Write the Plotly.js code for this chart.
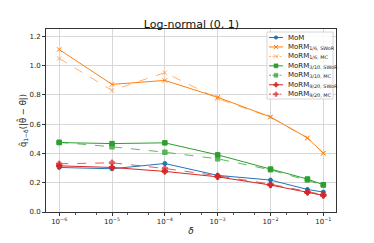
<!DOCTYPE html>
<html>
<head>
<meta charset="utf-8">
<script src="https://cdn.plot.ly/plotly-3.0.1.min.js"></script>
<style>html,body{margin:0;padding:0;background:#fff}#chart{width:374px;height:243px}</style>
</head>
<body>
<div id="chart"></div>
<script>
const delta = [1e-6, 1e-5, 1e-4, 1e-3, 1e-2, 5e-2, 1e-1];
const mom = [0.304, 0.295, 0.331, 0.250, 0.218, 0.154, 0.136];
const morm16SWoR = [1.109, 0.871, 0.898, 0.783, 0.649, 0.506, 0.402];
const morm16MC = [1.048, 0.830, 0.951, 0.774, 0.647, 0.504, 0.400];
const morm310SWoR = [0.474, 0.467, 0.472, 0.390, 0.293, 0.225, 0.186];
const morm310MC = [0.476, 0.445, 0.408, 0.363, 0.288, 0.218, 0.184];
const morm920SWoR = [0.315, 0.304, 0.277, 0.240, 0.184, 0.134, 0.113];
const morm920MC = [0.329, 0.336, 0.297, 0.247, 0.190, 0.136, 0.118];
const names = ['MoM', 'MoRM<sub>1/6, SWoR</sub>', 'MoRM<sub>1/6, MC</sub>', 'MoRM<sub>3/10, SWoR</sub>', 'MoRM<sub>3/10, MC</sub>', 'MoRM<sub>9/20, SWoR</sub>', 'MoRM<sub>9/20, MC</sub>'];
const xTickVals = [1e-6, 1e-5, 1e-4, 1e-3, 1e-2, 1e-1];
const xTickText = ['10<sup>−6</sup>', '10<sup>−5</sup>', '10<sup>−4</sup>', '10<sup>−3</sup>', '10<sup>−2</sup>', '10<sup>−1</sup>'];

const series = [mom, morm16SWoR, morm16MC, morm310SWoR, morm310MC, morm920SWoR, morm920MC];
const colors = ['#1f77b4', '#ff7f0e', '#ff7f0e', '#2ca02c', '#2ca02c', '#d62728', '#d62728'];
const symbols = ['circle', 'x-thin', 'x-thin', 'square', 'square', 'cross', 'cross'];
const sizes = [4, 4.5, 4.5, 4.5, 4.5, 4.5, 4.5];
const dashes = ['solid', 'solid', 'dash', 'solid', 'dash', 'solid', 'dash'];
const opac = [1, 1, 0.6, 1, 0.75, 1, 0.75];

const W = 374, H = 243, ML = 46, MR = 38, MT = 29, MB = 31;
const PW = W - ML - MR, PH = H - MT - MB;
const px = v => (v - ML) / PW;
const py = v => (H - MB - v) / PH;

const traces = series.map((ys, i) => ({
  x: delta, y: ys, name: names[i], type: 'scatter', mode: 'lines+markers',
  opacity: opac[i], showlegend: false,
  line: {color: colors[i], width: 1, dash: dashes[i]},
  marker: {color: colors[i], symbol: symbols[i], size: sizes[i], line: {color: colors[i], width: 1}}
}));

// custom compact legend (matplotlib-like)
const shapes = [{
  type: 'rect', xref: 'paper', yref: 'paper', layer: 'above',
  x0: px(267), x1: px(333), y0: py(99), y1: py(32),
  fillcolor: 'rgba(255,255,255,0.85)', line: {color: '#cccccc', width: 0.8}
}];
const annotations = [];
const legY0 = 37.5, legDY = 9.45;
const symPaths = {
  'x-thin': 'M-2,-2L2,2M2,-2L-2,2',
  'cross': 'M-0.8,-2.3H0.8V-0.8H2.3V0.8H0.8V2.3H-0.8V0.8H-2.3V-0.8H-0.8Z',
  'square': 'M-2,-2H2V2H-2Z'
};
names.forEach((n, i) => {
  const yy = py(legY0 + i * legDY);
  shapes.push({
    type: 'line', xref: 'paper', yref: 'paper', layer: 'above', opacity: opac[i],
    x0: px(269), x1: px(283), y0: yy, y1: yy,
    line: {color: colors[i], width: 1, dash: dashes[i] === 'dash' ? '2px,1.5px' : 'solid'}
  });
  const cx = px(276);
  if (symbols[i] === 'circle') {
    shapes.push({type: 'circle', xref: 'paper', yref: 'paper', layer: 'above', opacity: opac[i],
      xsizemode: 'pixel', ysizemode: 'pixel', xanchor: cx, yanchor: yy,
      x0: -1.8, x1: 1.8, y0: -1.8, y1: 1.8, fillcolor: colors[i], line: {color: colors[i], width: 0.5}});
  } else {
    const filled = symbols[i] !== 'x-thin';
    shapes.push({type: 'path', xref: 'paper', yref: 'paper', layer: 'above', opacity: opac[i],
      xsizemode: 'pixel', ysizemode: 'pixel', xanchor: cx, yanchor: yy,
      path: symPaths[symbols[i]], fillcolor: filled ? colors[i] : 'rgba(0,0,0,0)',
      line: {color: colors[i], width: filled ? 0.5 : 1}});
  }
  annotations.push({
    xref: 'paper', yref: 'paper', x: px(286), y: yy, xanchor: 'left', yanchor: 'middle',
    text: n, showarrow: false, font: {size: 7, color: '#222'}
  });
});

const layout = {
  width: W, height: H,
  margin: {l: ML, r: MR, t: MT, b: MB},
  paper_bgcolor: '#fff', plot_bgcolor: '#fff',
  font: {family: 'DejaVu Sans', size: 7, color: '#222'},
  title: {text: 'Log-normal (0, 1)', font: {size: 11, color: '#111'}, x: 0.512, xanchor: 'center', y: 0.9, yanchor: 'middle'},
  xaxis: {
    type: 'log', range: [-6.25, -0.76],
    tickvals: xTickVals, ticktext: xTickText,
    showgrid: true, gridcolor: '#d8d8d8', gridwidth: 1,
    showline: true, linecolor: '#333', linewidth: 1, mirror: true,
    ticks: 'outside', ticklen: 3, tickcolor: '#333',
    minor: {ticks: 'outside', ticklen: 1.5, tickcolor: '#555', showgrid: false},
    zeroline: false,
    title: {text: '<i>δ</i>', font: {size: 9}, standoff: 2}
  },
  yaxis: {
    range: [0, 1.249], dtick: 0.2, tickformat: '.1f',
    showgrid: true, gridcolor: '#d8d8d8', gridwidth: 1,
    showline: true, linecolor: '#333', linewidth: 1, mirror: true,
    ticks: 'outside', ticklen: 3, tickcolor: '#333',
    zeroline: false,
    title: {text: 'q̂<sub>1−δ</sub>(|θ̂ − θ|)', font: {size: 8.5}, standoff: 1}
  },
  shapes: shapes,
  annotations: annotations,
  showlegend: false
};

Plotly.newPlot('chart', traces, layout, {staticPlot: true, displayModeBar: false});
</script>
</body>
</html>
